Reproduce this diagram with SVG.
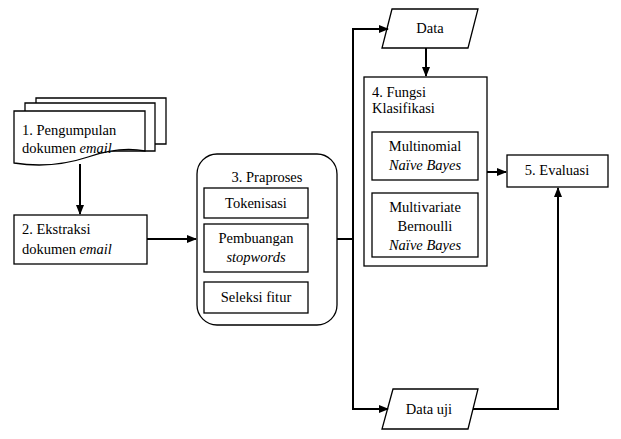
<svg xmlns="http://www.w3.org/2000/svg" width="621" height="439" viewBox="0 0 621 439">
<style>
text{font-family:'Liberation Serif','DejaVu Serif',serif;font-size:14.5px;fill:#000}
.b{fill:#fff;stroke:#000;stroke-width:1.3}
.c{fill:none;stroke:#000;stroke-width:2}
.i{font-style:italic}
.m{text-anchor:middle}
</style>
<defs>
<marker id="ah" markerWidth="10" markerHeight="10" refX="9" refY="5" orient="auto" markerUnits="userSpaceOnUse">
<path d="M0,1 L10,5 L0,9 Z" fill="#000"/>
</marker>
</defs>
<rect width="621" height="439" fill="#fff"/>
<g id="n1">
<path class="b" d="M36,98 H166 V144 H36 Z"/>
<path class="b" d="M25,103 H155 V151 H25 Z"/>
<path class="b" d="M14,111 H145 V151 Q120,146 88,157 Q52,169 14,163 Z"/>
<text x="22" y="135">1. Pengumpulan</text>
<text x="22" y="153">dokumen <tspan class="i">email</tspan></text>
</g>
<g id="n2">
<rect class="b" x="14" y="215" width="133" height="49"/>
<text x="22" y="234">2. Ekstraksi</text>
<text x="22" y="254">dokumen <tspan class="i">email</tspan></text>
</g>
<g id="n3">
<rect class="b" x="197" y="154" width="140" height="171" rx="20" ry="20"/>
<text class="m" x="267" y="182">3. Praproses</text>
<rect class="b" x="204" y="188" width="104" height="30"/>
<text class="m" x="256" y="208">Tokenisasi</text>
<rect class="b" x="204" y="224" width="104" height="48"/>
<text class="m" x="256" y="243">Pembuangan</text>
<text class="m i" x="256" y="262">stopwords</text>
<rect class="b" x="204" y="282" width="104" height="31"/>
<text class="m" x="256" y="302">Seleksi fitur</text>
</g>
<g id="data">
<path class="b" d="M392,9 H478 L468,48 H382 Z"/>
<text class="m" x="430" y="33">Data</text>
</g>
<g id="n4">
<rect class="b" x="364" y="77" width="123" height="189"/>
<text x="372" y="97">4. Fungsi</text>
<text x="372" y="113">Klasifikasi</text>
<rect class="b" x="372" y="132" width="106" height="48"/>
<text class="m" x="425" y="151">Multinomial</text>
<text class="m i" x="425" y="170">Naïve Bayes</text>
<rect class="b" x="372" y="193" width="106" height="64"/>
<text class="m" x="425" y="212">Multivariate</text>
<text class="m" x="425" y="231">Bernoulli</text>
<text class="m i" x="425" y="250">Naïve Bayes</text>
</g>
<g id="n5">
<rect class="b" x="507" y="155" width="101" height="32"/>
<text class="m" x="557" y="175">5. Evaluasi</text>
</g>
<g id="datauji">
<path class="b" d="M393,389 H478 L468,429 H382 Z"/>
<text class="m" x="429" y="414">Data uji</text>
</g>
<g id="connectors">
<path class="c" d="M80,164 V214" marker-end="url(#ah)"/>
<path class="c" d="M147,239 H196" marker-end="url(#ah)"/>
<path class="c" d="M337,239 H353"/>
<path class="c" d="M353,239 V29 H388" marker-end="url(#ah)"/>
<path class="c" d="M353,239 V409 H388" marker-end="url(#ah)"/>
<path class="c" d="M426,48 V76" marker-end="url(#ah)"/>
<path class="c" d="M487,172 H506" marker-end="url(#ah)"/>
<path class="c" d="M473,409 H558 V188" marker-end="url(#ah)"/>
</g>
</svg>
